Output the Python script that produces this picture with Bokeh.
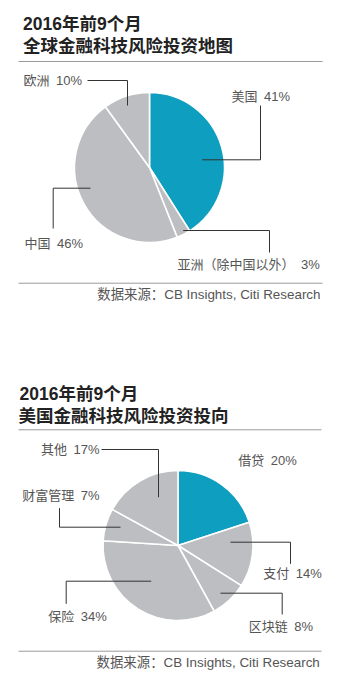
import math
from bokeh.plotting import figure
from bokeh.models import Range1d
from bokeh.core.properties import value
from bokeh.embed import file_html
from bokeh.resources import INLINE

W, H = 351, 686

# ---------------- data ----------------
title1_a = "2016年前9个月"
title1_b = "全球金融科技风险投资地图"
cats1 = ["美国", "亚洲（除中国以外）", "中国", "欧洲"]
vals1 = [41, 3, 46, 10]

title2_a = "2016年前9个月"
title2_b = "美国金融科技风险投资投向"
cats2 = ["借贷", "支付", "区块链", "保险", "财富管理", "其他"]
vals2 = [20, 14, 8, 34, 7, 17]

source = "数据来源：CB Insights, Citi Research"

BLUE = "#0E9EBF"
GRAY = "#BDBEC1"
colors1 = [BLUE, GRAY, GRAY, GRAY]
colors2 = [BLUE, GRAY, GRAY, GRAY, GRAY, GRAY]

# ---------------- layout (pixel positions, y from top) ----------------
pie1 = dict(cx=149, cy=167, r=75)
pie2 = dict(cx=177.5, cy=545, r=75)

label_pos1 = {
    "美国": (231, 96),
    "亚洲（除中国以外）": (177, 264),
    "中国": (24, 243),
    "欧洲": (23, 80),
}
leader1 = {
    "美国": [(201.7, 159.3), (260, 159.3), (260, 105)],
    "亚洲（除中国以外）": [(182.7, 230), (269, 230), (269, 252)],
    "中国": [(90, 187.7), (52.7, 187.7), (52.7, 228)],
    "欧洲": [(87, 80), (127, 80), (127, 105)],
}
label_pos2 = {
    "借贷": (237.7, 459.5),
    "支付": (262.7, 572.7),
    "区块链": (248.3, 625.7),
    "保险": (47.7, 615.7),
    "财富管理": (21.7, 495),
    "其他": (40.5, 449),
}
leader2 = {
    "支付": [(230, 541.7), (290, 541.7), (290, 563.3)],
    "区块链": [(220, 592.7), (281.7, 592.7), (281.7, 614)],
    "保险": [(150.7, 580.7), (65.7, 580.7), (65.7, 603.3)],
    "财富管理": [(59, 507.7), (59, 526.7), (120, 526.7)],
    "其他": [(101, 449), (158, 449), (158, 496.7)],
}

FONT = value("'Liberation Sans', 'Noto Sans CJK SC', sans-serif")


def Y(py):
    return H - py


p = figure(width=W, height=H, x_range=Range1d(0, W), y_range=Range1d(0, H),
           output_backend="svg", toolbar_location=None, min_border=0)
p.axis.visible = False
p.grid.visible = False
p.outline_line_color = None
p.background_fill_color = "white"
p.border_fill_color = "white"


def draw_pie(cats, vals, colors, pie, label_pos, leader):
    total = float(sum(vals))
    starts, ends = [], []
    cum = 0.0
    for v in vals:
        a0 = math.pi / 2 - 2 * math.pi * cum / total
        cum += v
        a1 = math.pi / 2 - 2 * math.pi * cum / total
        starts.append(a1)
        ends.append(a0)
    n = len(vals)
    p.wedge(x=[pie["cx"]] * n, y=[Y(pie["cy"])] * n, radius=pie["r"],
            start_angle=starts, end_angle=ends, fill_color=colors,
            line_color="white", line_width=1.6)
    xs, ys = [], []
    for c in cats:
        if c in leader:
            xs.append([pt[0] for pt in leader[c]])
            ys.append([Y(pt[1]) for pt in leader[c]])
    if xs:
        p.multi_line(xs=xs, ys=ys, line_color="#333333", line_width=1)
    lx = [label_pos[c][0] for c in cats]
    ly = [Y(label_pos[c][1]) for c in cats]
    txt = [f"{c}\u2002{v}%" for c, v in zip(cats, vals)]
    p.text(x=lx, y=ly, text=txt, text_font=FONT, text_font_size="13px",
           text_color="#555555", text_baseline="middle", text_align="left")


def title(xa, ya, ta, xb, yb, tb):
    p.text(x=[xa, xb], y=[Y(ya), Y(yb)], text=[ta, tb], text_font=FONT,
           text_font_size="17.5px", text_font_style="bold", text_color="#222222",
           text_baseline="middle", text_align="left")


def rule(y, x0=18, x1=322):
    p.line(x=[x0, x1], y=[Y(y), Y(y)], line_color="#9a9a9a", line_width=1)


def src(x, y):
    p.text(x=[x], y=[Y(y)], text=[source], text_font=FONT, text_font_size="13.4px",
           text_color="#555555", text_baseline="middle", text_align="right")


# chart 1
title(22.5, 23.5, title1_a, 22.5, 45.5, title1_b)
rule(61)
draw_pie(cats1, vals1, colors1, pie1, label_pos1, leader1)
rule(282.7)
src(320, 293.5)

# chart 2
title(19, 393.5, title2_a, 18, 415.5, title2_b)
rule(429.3, 18, 321)
draw_pie(cats2, vals2, colors2, pie2, label_pos2, leader2)
rule(650.7, 18, 321)
src(319.3, 662)

open("out.html", "w").write(file_html(p, INLINE))
